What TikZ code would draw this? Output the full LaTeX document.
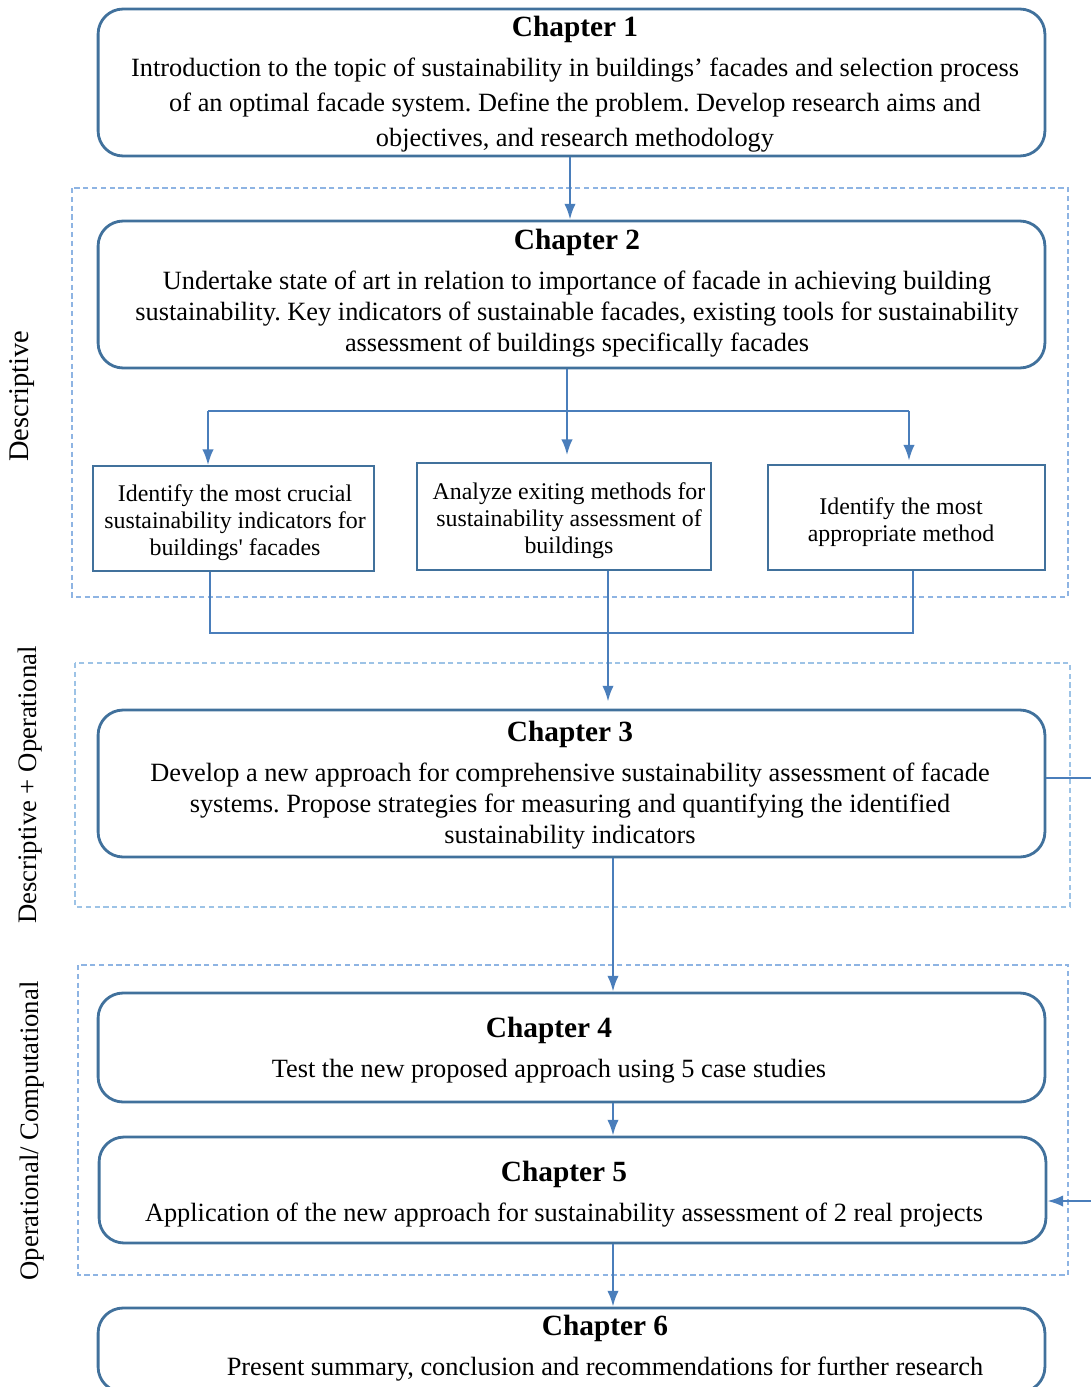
\documentclass[tikz,border=0pt]{standalone}
\usepackage{fontspec}
\setmainfont{Liberation Serif}
\usetikzlibrary{arrows.meta}
\definecolor{boxblue}{HTML}{41719C}
\definecolor{linkblue}{HTML}{4A7EBB}
\definecolor{zoneblue}{HTML}{8EB4E3}
\definecolor{zonecyan}{HTML}{9DC3E6}
\frenchspacing

\begin{document}
\begin{tikzpicture}[x=0.02cm,y=-0.02cm,
	chapbox/.style={draw=boxblue,line width=1.6pt,rounded corners=0.5cm,minimum width=18.94cm,inner sep=0pt},
	chaptext/.style={align=center,inner sep=0pt,font=\fontsize{15}{17.6}\selectfont},
	taskbox/.style={draw=boxblue,line width=0.9pt,inner sep=0pt},
	tasktext/.style={align=center,inner sep=0pt,font=\fontsize{13.6}{15.3}\selectfont},
	zone/.style={draw=#1,line width=0.6pt,dash pattern=on 3pt off 2pt},
	link/.style={draw=linkblue,line width=1.3pt},
	tip/.style={-{Latex[length=9pt,width=6.5pt]}},
	sidelabel/.style={rotate=90,inner sep=0pt,font=\fontsize{15.2}{18}\selectfont}]
		\useasboundingbox (0,0) rectangle (1091,1387);
		\clip (0,0) rectangle (1091,1387);
		% phases
		\draw[zone=zoneblue] (72,188) rectangle (1068,597);
		\draw[zone=zonecyan] (75,663) rectangle (1070,907);
		\draw[zone=zoneblue] (78,965) rectangle (1068,1275);
		\node[sidelabel,font=\fontsize{16.2}{19}\selectfont] (descr) at (22,396) {Descriptive};
		\node[sidelabel] (descrop) at (30,785) {Descriptive + Operational};
		\node[sidelabel] (opcomp) at (32,1131) {Operational/ Computational};
		% chapters
		\node[chapbox,minimum height=2.94cm] (ch1) at (571.5,82.5) {};
		\node[chaptext,font=\fontsize{15}{19.8}\selectfont] (ch1txt) at (575,84) {\textbf{\fontsize{16.7}{19}\selectfont Chapter 1}\\[3pt]Introduction to the topic of sustainability in buildings’ facades and selection process\\of an optimal facade system. Define the problem. Develop research aims and\\objectives, and research methodology};
		\node[chapbox,minimum height=2.94cm] (ch2) at (571.5,294.5) {};
		\node[chaptext] (ch2txt) at (577,293) {\textbf{\fontsize{16.7}{19}\selectfont Chapter 2}\\[5pt]Undertake state of art in relation to importance of facade in achieving building\\sustainability. Key indicators of sustainable facades, existing tools for sustainability\\assessment of buildings specifically facades};
		% tasks
		\node[taskbox,minimum width=5.62cm,minimum height=2.1cm] (taskA) at (233.5,518.5) {};
		\node[tasktext] (taskAtxt) at (235,523) {Identify the most crucial\\sustainability indicators for\\buildings\textquotesingle\ facades};
		\node[taskbox,minimum width=5.88cm,minimum height=2.14cm] (taskB) at (564,516.5) {};
		\node[tasktext] (taskBtxt) at (569,521) {Analyze exiting methods for\\sustainability assessment of\\buildings};
		\node[taskbox,minimum width=5.54cm,minimum height=2.1cm] (taskC) at (906.5,517.5) {};
		\node[tasktext] (taskCtxt) at (901,522) {Identify the most\\appropriate method};
		\node[chapbox,minimum height=2.94cm] (ch3) at (571.5,783.5) {};
		\node[chaptext] (ch3txt) at (570,785) {\textbf{\fontsize{16.7}{19}\selectfont Chapter 3}\\[5pt]Develop a new approach for comprehensive sustainability assessment of facade\\systems. Propose strategies for measuring and quantifying the identified\\sustainability indicators};
		\node[chapbox,minimum height=2.18cm] (ch4) at (571.5,1047.5) {};
		\node[chaptext] (ch4txt) at (549,1050) {\textbf{\fontsize{16.7}{19}\selectfont Chapter 4}\\[5pt]Test the new proposed approach using 5 case studies};
		\node[chapbox,minimum height=2.12cm] (ch5) at (572.5,1190) {};
		\node[chaptext] (ch5txt) at (564,1194) {\textbf{\fontsize{16.7}{19}\selectfont Chapter 5}\\[5pt]Application of the new approach for sustainability assessment of 2 real projects};
		\node[chapbox,minimum height=1.68cm] (ch6) at (571.5,1350) {};
		\node[chaptext] (ch6txt) at (605,1348) {\textbf{\fontsize{16.7}{19}\selectfont Chapter 6}\\[5pt]Present summary, conclusion and recommendations for further research};
		% connectors
		\coordinate (split) at (567,411);
		\coordinate (fanL) at (208,411);
		\coordinate (fanR) at (909,411);
		\coordinate (joinL) at (210,633);
		\coordinate (joinR) at (913,633);
		\coordinate (drop) at (608,633);
		\coordinate (spine) at (613,0);
		\coordinate (outA) at (1091,778);
		\coordinate (outB) at (1091,1201);
		\draw[link,tip] (ch1.south -| 570,0) -- (ch2.north -| 570,0);
		\draw[link] (ch2.south -| split) -- (split);
		\draw[link] (fanL) -- (fanR);
		\draw[link,tip] (fanL) -- (fanL |- taskA.north);
		\draw[link,tip] (split) -- ([yshift=4pt]split |- taskB.north);
		\draw[link,tip] (fanR) -- ([yshift=2pt]fanR |- taskC.north);
		\draw[link] (joinL |- taskA.south) -- (joinL) -- (joinR) -- (joinR |- taskC.south);
		\draw[link,tip] (drop |- taskB.south) -- ([yshift=4pt]drop |- ch3.north);
		\draw[link,tip] (ch3.south -| spine) -- (ch4.north -| spine);
		\draw[link,tip] (ch4.south -| spine) -- (ch5.north -| spine);
		\draw[link,tip] (ch5.south -| spine) -- (ch6.north -| spine);
		\draw[link] (ch3.east |- outA) -- (outA);
		\draw[link,tip] (outB) -- (outB -| ch5.east);
	\end{tikzpicture}
\end{document}
